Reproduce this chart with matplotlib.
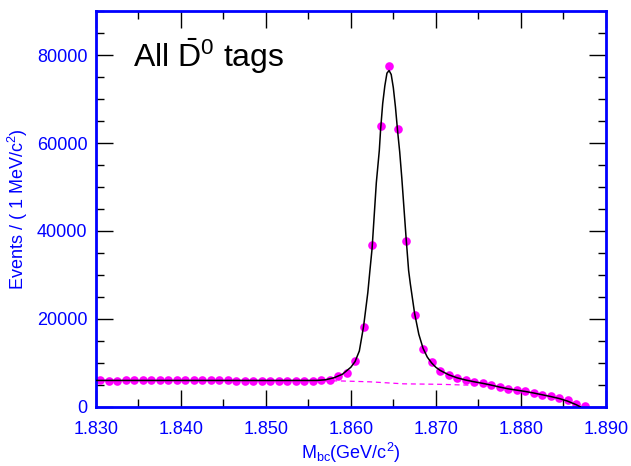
import numpy as np
import matplotlib
matplotlib.use("Agg")
import matplotlib.pyplot as plt
from matplotlib.ticker import MultipleLocator, FormatStrFormatter

plt.rcParams['font.family'] = ['Liberation Sans', 'DejaVu Sans']
plt.rcParams['mathtext.fontset'] = 'custom'
plt.rcParams['mathtext.rm'] = 'Liberation Sans'
plt.rcParams['mathtext.it'] = 'Liberation Sans:italic'

# ---------- data ----------
# histogram, 1 MeV bins from 1.830 to 1.888 GeV
bin_centers = np.arange(1.8305, 1.888, 0.001)
events = [6140, 5910, 5830, 6000, 6060, 6140, 6210, 6140, 6060, 5990,
          5990, 5990, 5990, 5990, 5990, 5990, 5910, 5910, 5760, 5760,
          5910, 5910, 5830, 5910, 5910, 5910, 5990, 6140, 7100, 7650,
          10450, 18200, 36700, 63900, 77500, 63100, 37700, 20900, 13200, 10100,
          8250, 7270, 6600, 6140, 5750, 5380, 4930, 4480, 4090, 3860,
          3570, 3180, 2730, 2430, 1970, 1440, 610, 100]

# total fit curve (signal + background)
fit_mass = [1.8300, 1.8400, 1.8500, 1.8560, 1.8570, 1.8580, 1.8590, 1.8600,
            1.8605, 1.8610, 1.8615, 1.8620, 1.86225, 1.8625, 1.8630, 1.86335,
            1.8635, 1.86375, 1.8640, 1.86425, 1.8645, 1.86475, 1.8650, 1.86525,
            1.8655, 1.86575, 1.8660, 1.8665, 1.8668, 1.8670, 1.8675, 1.8680,
            1.8685, 1.8690, 1.8695, 1.8700, 1.8705, 1.8715, 1.8725, 1.8735,
            1.8745, 1.8755, 1.8765, 1.8775, 1.8785, 1.8795, 1.8805, 1.8815,
            1.8825, 1.8835, 1.8845, 1.8855, 1.8865, 1.8870]
fit_total = [6000, 6000, 5990, 6000, 6150, 6600, 7400, 9000,
             10300, 12700, 18300, 26000, 31100, 36000, 51000, 58300,
             63000, 69000, 73000, 75900, 76500, 75600, 72600, 68200,
             62800, 58000, 52000, 38500, 31000, 28000, 21300, 16500,
             13300, 11300, 10000, 9000, 8300, 7300, 6600, 6100,
             5700, 5350, 4950, 4500, 4100, 3800, 3500, 3150,
             2750, 2350, 1900, 1300, 500, 0]

# background component (dashed)
bkg_mass = [1.8300, 1.8400, 1.8500, 1.8550, 1.8585, 1.8600, 1.8623, 1.8662,
            1.8705, 1.8728, 1.8755, 1.8775, 1.8795, 1.8815, 1.8835, 1.8855,
            1.8865, 1.8870]
bkg_vals = [6050, 6020, 5980, 5940, 5900, 5820, 5680, 5230,
            5120, 4990, 4850, 4450, 3800, 3150, 2350, 1300,
            500, 0]

blue = '#0000ff'
magenta = '#ff00ff'

fig = plt.figure(figsize=(6.31, 4.66), dpi=100)
ax = fig.add_axes([0.152, 0.127, 0.808, 0.849])

ax.plot(bkg_mass, bkg_vals, color=magenta, linestyle=(0, (4, 3)), linewidth=0.9, zorder=1)
ax.plot(bin_centers, events, 'o', color=magenta, markersize=6.2, markeredgewidth=0, zorder=2)
ax.plot(fit_mass, fit_total, color='black', linewidth=1.1, zorder=3)

ax.set_xlim(1.830, 1.890)
ax.set_ylim(0, 90000)

ax.xaxis.set_major_locator(MultipleLocator(0.010))
ax.xaxis.set_minor_locator(MultipleLocator(0.005))
ax.xaxis.set_major_formatter(FormatStrFormatter('%.3f'))
ax.yaxis.set_major_locator(MultipleLocator(20000))
ax.yaxis.set_minor_locator(MultipleLocator(5000))

ax.tick_params(axis='both', which='both', direction='in', top=True, right=True,
               labelcolor=blue, labelsize=13)
ax.tick_params(axis='both', which='major', length=12, width=1.0)
ax.tick_params(axis='both', which='minor', length=6, width=1.0)
ax.tick_params(axis='x', which='major', pad=10)
ax.tick_params(axis='y', which='major', pad=6)

for spine in ax.spines.values():
    spine.set_color(blue)
    spine.set_linewidth(2)

# bottom/left ticks blue, top/right ticks black
for axis in (ax.xaxis, ax.yaxis):
    for t in axis.get_major_ticks() + axis.get_minor_ticks():
        t.tick1line.set_color(blue)
        t.tick2line.set_color('black')

ax.set_xlabel(r'M$_{\mathrm{bc}}$(GeV/c$^{2}$)', color=blue, fontsize=13, labelpad=2)
ax.set_ylabel(r'Events / ( 1 MeV/c$^{2}$)', color=blue, fontsize=13, labelpad=5)

ax.text(0.073, 0.86, r'All $\bar{\mathrm{D}}^{0}$ tags', transform=ax.transAxes,
        fontsize=23, color='black')

fig.savefig('out.png', dpi=100)
